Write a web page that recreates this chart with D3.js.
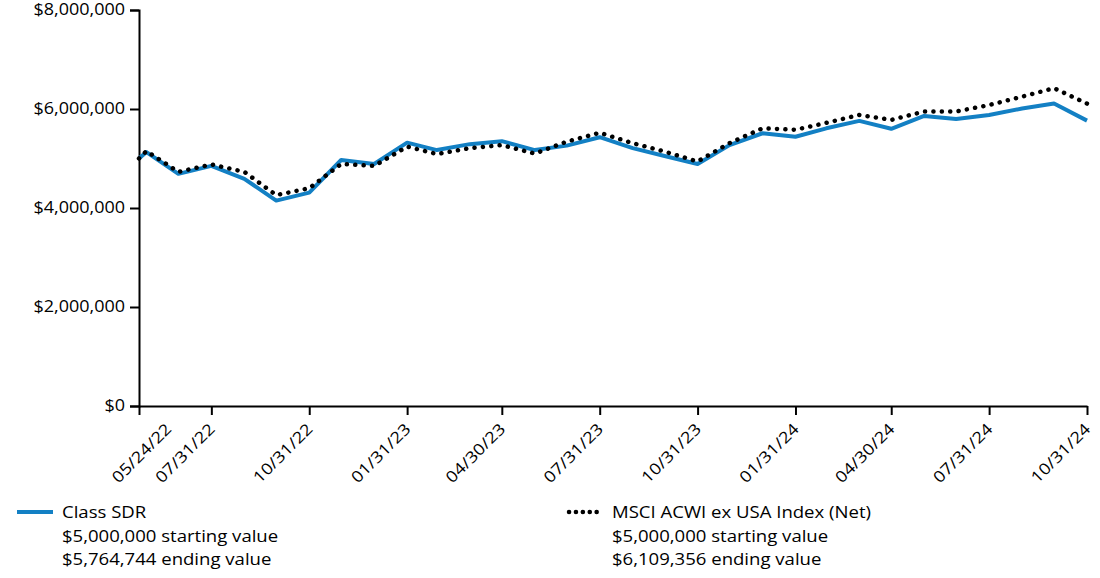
<!DOCTYPE html>
<html><head><meta charset="utf-8">
<script src="https://cdn.jsdelivr.net/npm/d3@7"></script>
<style>
body{margin:0;background:#fff;}
text{font-family:"Open Sans","Noto Sans",sans-serif;fill:#000;}
</style></head>
<body><svg id="c" width="1100" height="578"></svg>
<script>
const dates = ["2022-05-24","2022-05-31","2022-06-30","2022-07-31","2022-08-31","2022-09-30","2022-10-31","2022-11-30","2022-12-31",
"2023-01-31","2023-02-28","2023-03-31","2023-04-30","2023-05-31","2023-06-30","2023-07-31","2023-08-31","2023-09-30","2023-10-31","2023-11-30","2023-12-31",
"2024-01-31","2024-02-29","2024-03-31","2024-04-30","2024-05-31","2024-06-30","2024-07-31","2024-08-31","2024-09-30","2024-10-31"];
const classSDR = [5000000,5130000,4690000,4850000,4590000,4150000,4310000,4970000,4890000,
5320000,5170000,5290000,5350000,5170000,5260000,5430000,5210000,5050000,4890000,5270000,5510000,
5440000,5610000,5760000,5600000,5860000,5800000,5880000,6010000,6110000,5764744];
const msci = [5000000,5150000,4730000,4880000,4730000,4260000,4400000,4890000,4850000,
5240000,5090000,5210000,5270000,5100000,5340000,5520000,5310000,5140000,4940000,5310000,5610000,
5580000,5720000,5880000,5780000,5950000,5950000,6080000,6250000,6420000,6109356];
const tickDates = ["2022-05-24","2022-07-31","2022-10-31","2023-01-31","2023-04-30","2023-07-31","2023-10-31","2024-01-31","2024-04-30","2024-07-31","2024-10-31"];
const yTicks = [0,2000000,4000000,6000000,8000000];
const legendItems = [
 {name:"Class SDR", start:"$5,000,000 starting value", end:"$5,764,744 ending value"},
 {name:"MSCI ACWI ex USA Index (Net)", start:"$5,000,000 starting value", end:"$6,109,356 ending value"}
];

const parse = d3.utcParse("%Y-%m-%d");
const fmtD = d3.utcFormat("%m/%d/%y");
const svg = d3.select("#c");
const x = d3.scaleUtc().domain([parse(dates[0]), parse(dates[dates.length-1])]).range([139,1087]);
const y = d3.scaleLinear().domain([0,8000000]).range([406,10]);
const blue = "#1380c4";
const SX = 1.16;

// axes
const ya = svg.append("g").attr("transform","translate(139,0)")
  .call(d3.axisLeft(y).tickValues(yTicks).tickSize(9).tickPadding(5).tickFormat(d=>"$"+d3.format(",")(d)));
ya.select(".domain").attr("stroke","#000").attr("stroke-width",2);
ya.selectAll(".tick line").attr("stroke","#000").attr("stroke-width",2);
ya.selectAll("text").style("font-size","15.5px").attr("x",0)
  .attr("transform",`translate(-14,0) scale(${SX},1)`);

const xa = svg.append("g").attr("transform","translate(0,406)")
  .call(d3.axisBottom(x).tickValues(tickDates.map(parse)).tickSize(9).tickSizeOuter(0).tickFormat(fmtD));
xa.select(".domain").attr("stroke","#000").attr("stroke-width",2);
xa.selectAll(".tick line").attr("stroke","#000").attr("stroke-width",2);
xa.selectAll("text").style("font-size","15.8px").attr("text-anchor","end")
  .attr("y",0).attr("dy","0")
  .attr("transform",(d,i)=>`translate(${i===0?33:4},24) rotate(-45) scale(${SX},1)`);

const line = d3.line().x((d,i)=>x(parse(dates[i]))).y(d=>y(d));
svg.append("path").datum(classSDR).attr("d",line).attr("fill","none")
  .attr("stroke",blue).attr("stroke-width",4).attr("stroke-linejoin","round");
svg.append("path").datum(msci).attr("d",line).attr("fill","none")
  .attr("stroke","#000").attr("stroke-width",4.5).attr("stroke-linecap","round")
  .attr("stroke-dasharray","0.1 8.3");

// legend
const lg = svg.append("g");
const lx = [17, 567];
legendItems.forEach((it,i)=>{
  const g = lg.append("g").attr("transform",`translate(${lx[i]},0)`);
  if(i===0){
    g.append("line").attr("x1",0).attr("x2",36).attr("y1",512).attr("y2",512).attr("stroke",blue).attr("stroke-width",4);
  } else {
    g.append("line").attr("x1",2).attr("x2",36).attr("y1",512).attr("y2",512).attr("stroke","#000")
     .attr("stroke-width",4.5).attr("stroke-linecap","round").attr("stroke-dasharray","0.1 6.8");
  }
  [it.name,it.start,it.end].forEach((t,j)=>{
    g.append("text").attr("transform",`translate(45,${518+j*23.5}) scale(${SX},1)`)
     .style("font-size","16px").text(t);
  });
});
</script></body></html>
